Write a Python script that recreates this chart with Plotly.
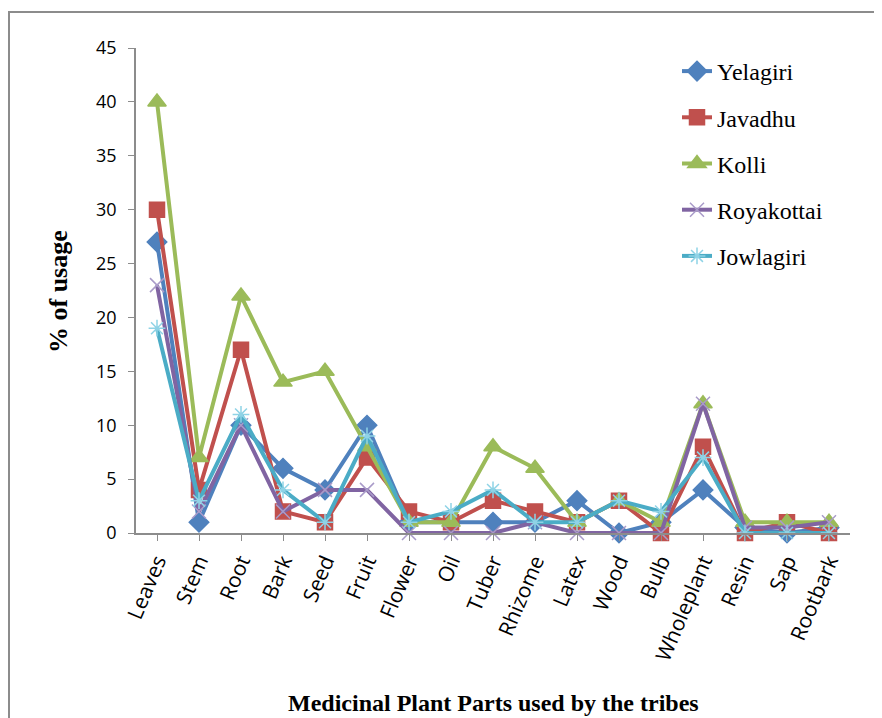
import plotly.graph_objects as go

parts = ["Leaves", "Stem", "Root", "Bark", "Seed", "Fruit", "Flower", "Oil", "Tuber",
         "Rhizome", "Latex", "Wood", "Bulb", "Wholeplant", "Resin", "Sap", "Rootbark"]

yelagiri   = [27, 1, 10, 6, 4, 10, 1, 1, 1, 1, 3, 0, 1, 4, 0.5, 0, 0.5]
javadhu    = [30, 4, 17, 2, 1, 7, 2, 1, 3, 2, 1, 3, 0, 8, 0, 1, 0]
kolli      = [40, 7, 22, 14, 15, 8, 1, 1, 8, 6, 1, 3, 1, 12, 1, 1, 1]
royakottai = [23, 2, 10, 2, 4, 4, 0, 0, 0, 1, 0, 0, 0, 12, 0.5, 0.5, 1]
jowlagiri  = [19, 3, 11, 4, 1, 9, 1, 2, 4, 1, 1, 3, 2, 7, 0, 0, 0]

series = [
    ("Yelagiri", yelagiri, "#4F81BD", "diamond", 15, "#4F81BD"),
    ("Javadhu", javadhu, "#C0504D", "square", 15, "#C0504D"),
    ("Kolli", kolli, "#9BBB59", "triangle-up", 16, "#9BBB59"),
    ("Royakottai", royakottai, "#8064A2", "x-thin-open", 14, "#A99BC9"),
    ("Jowlagiri", jowlagiri, "#4BACC6", "asterisk-open", 14, "#8FD3E6"),
]

fig = go.Figure()
for name, vals, col, sym, size, mcol in series:
    fig.add_trace(go.Scatter(
        x=parts, y=vals, name=name, mode="lines+markers",
        line=dict(color=col, width=4),
        marker=dict(symbol=sym, size=size, color=mcol,
                    line=dict(color=mcol, width=1.5)),
        cliponaxis=False, legendgroup=name,
    ))

# page offset (body margin) and target pixel geometry
OFF = 8
W, H = 882 - OFF, 718 - OFF
X0, X1, Y0, Y1 = 136, 850, 48, 533   # plot area in screenshot pixels
L, R, T, B = X0 - OFF, W - (X1 - OFF), Y0 - OFF, H - (Y1 - OFF)
pw, ph = W - L - R, H - T - B

def px(xp):
    return (xp - X0) / pw

def py(yp):
    return (Y1 - yp) / ph

tickfont = dict(family="Open Sans", size=18, color="black")

fig.update_layout(
    width=W, height=H,
    margin=dict(l=L, r=R, t=T, b=B),
    plot_bgcolor="white", paper_bgcolor="white",
    showlegend=True,
    legend=dict(
        x=px(677), y=py(49), xanchor="left", yanchor="top",
        font=dict(family="Liberation Serif", size=24, color="black"),
        tracegroupgap=12, bgcolor="rgba(0,0,0,0)",
    ),
    xaxis=dict(
        type="category", showline=True, linecolor="#8c8c8c", linewidth=1.5,
        ticks="outside", ticklen=6, tickcolor="#8c8c8c", tickangle=-67,
        tickfont=dict(family="Open Sans", size=21, color="black"), automargin=False,
        showgrid=False, zeroline=False, range=[-0.5, 16.5],
    ),
    yaxis=dict(
        range=[0, 45], dtick=5, showline=True, linecolor="#8c8c8c", linewidth=1.5,
        ticks="outside", ticklen=6, tickcolor="#8c8c8c", ticklabelstandoff=8,
        tickfont=tickfont, automargin=False,
        showgrid=False, zeroline=False,
    ),
    annotations=[
        dict(text="<b>Medicinal Plant Parts used by the tribes</b>", xref="paper", yref="paper",
             x=px(493), y=py(703), xanchor="center", yanchor="middle", showarrow=False,
             font=dict(family="Liberation Serif", size=24, color="black")),
        dict(text="<b>% of usage</b>", xref="paper", yref="paper",
             x=px(58), y=py(292), xanchor="center", yanchor="middle", showarrow=False,
             textangle=-90, font=dict(family="Liberation Serif", size=26, color="black")),
    ],
    shapes=[dict(type="rect", xref="paper", yref="paper",
                 x0=-(L - 1) / pw, x1=1.2, y0=py(12), y1=-0.6,
                 line=dict(color="#8c8c8c", width=2), fillcolor="rgba(0,0,0,0)", layer="below")],
)

fig.write_html("out.html")
